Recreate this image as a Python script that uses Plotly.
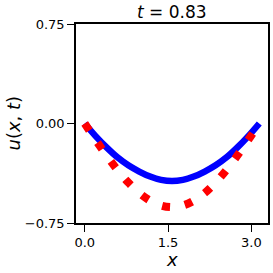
import plotly.graph_objects as go

x_vals = [0.0, 0.196, 0.393, 0.589, 0.785, 0.982, 1.178, 1.374, 1.571,
          1.767, 1.963, 2.160, 2.356, 2.553, 2.749, 2.945, 3.142]
u_exact = [0.0, -0.123, -0.241, -0.350, -0.445, -0.524, -0.582, -0.618, -0.630,
           -0.618, -0.582, -0.524, -0.445, -0.350, -0.241, -0.123, 0.0]
u_pred = [0.0, -0.095, -0.180, -0.255, -0.315, -0.362, -0.400, -0.425, -0.434,
          -0.425, -0.400, -0.362, -0.315, -0.255, -0.180, -0.095, 0.0]
x_ticks = [0.0, 1.5, 3.0]
x_tick_text = ["0.0", "1.5", "3.0"]
y_ticks = [-0.75, 0.0, 0.75]
y_tick_text = ["\u22120.75", "0.00", "0.75"]
title_text = "<i>t</i> = 0.83"
x_label = "<i>x</i>"
y_label = "<i>u</i>(<i>x</i>, <i>t</i>)"

fig = go.Figure()
fig.add_trace(go.Scatter(x=x_vals, y=u_pred, mode="lines",
                         line=dict(color="rgb(0,0,255)", width=6.5, shape="spline")))
fig.add_trace(go.Scatter(x=x_vals, y=u_exact, mode="lines",
                         line=dict(color="rgb(255,0,0)", width=8, dash="8px,15px", shape="spline")))

font = "DejaVu Sans"
fig.update_layout(
    width=273, height=273,
    margin=dict(l=76, r=5, t=24, b=50, autoexpand=False),
    paper_bgcolor="white", plot_bgcolor="white",
    showlegend=False,
    font=dict(family=font, color="black", size=13),
    annotations=[
        dict(text=title_text, xref="paper", yref="paper", x=0.5, y=1, yshift=12,
             xanchor="center", yanchor="middle", showarrow=False,
             font=dict(family=font, size=17, color="black")),
        dict(text=x_label, xref="paper", yref="paper", x=0.5, y=0, yshift=-36,
             xanchor="center", yanchor="middle", showarrow=False,
             font=dict(family=font, size=18, color="black")),
        dict(text=y_label, xref="paper", yref="paper", x=0, y=0.5, xshift=-63,
             xanchor="center", yanchor="middle", showarrow=False, textangle=-90,
             font=dict(family=font, size=18, color="black")),
    ],
)
fig.update_xaxes(range=[-0.157, 3.299], tickvals=x_ticks, ticktext=x_tick_text,
                 ticks="outside", ticklen=7, tickwidth=1.3, tickcolor="black",
                 showline=True, linecolor="black", linewidth=1.5, mirror=True,
                 showgrid=False, zeroline=False, automargin=False,
                 tickfont=dict(size=13, family=font))
fig.update_yaxes(range=[-0.75, 0.75], tickvals=y_ticks, ticktext=y_tick_text,
                 ticks="outside", ticklen=7, tickwidth=1.3, tickcolor="black",
                 showline=True, linecolor="black", linewidth=1.5, mirror=True,
                 showgrid=False, zeroline=False, automargin=False,
                 tickfont=dict(size=13, family=font))

fig.write_html("out.html", config={"displayModeBar": False},
               post_script="document.body.style.margin='0';")
